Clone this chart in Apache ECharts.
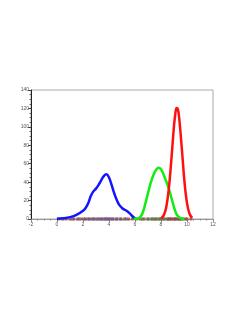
<!DOCTYPE html>
<html><head><meta charset="utf-8">
<script src="https://cdn.jsdelivr.net/npm/echarts@6/dist/echarts.min.js"></script>
<style>html,body{margin:0;padding:0;background:#fff}#c{width:249px;height:323px}</style>
</head><body><div id="c"></div>
<script>
const blueX = [0.0,0.5,1.0,1.5,2.0,2.2,2.4,2.6,2.8,3.0,3.2,3.4,3.6,3.8,4.0,4.2,4.4,4.6,4.8,5.0,5.2,5.4,5.6,5.8,6.0];
const blueY = [0.3,0.8,2,4.5,9,12,17,25,30,33,37,42,46.5,48.5,45,37,28,20.5,15,12,10,8.5,6,3,0.5];
const greenX = [5.9,6.2,6.4,6.6,6.8,7.0,7.2,7.4,7.6,7.8,8.0,8.2,8.4,8.6,8.8,9.0,9.2,9.4,9.6,9.8];
const greenY = [0,0.5,2,7,17,28,39,47,53,55.5,54,48,41,33,23,13,5,2,0.5,0];
const redX = [8.0,8.2,8.4,8.6,8.8,9.0,9.1,9.2,9.3,9.4,9.6,9.8,10.0,10.2,10.4];
const redY = [0.8,3.7,12.5,32.7,65,101,114,120.4,119,109.5,76.8,41.4,17.2,5.4,1.3];
const rugBrown = [0.1,0.4,0.7,1.0,1.3,1.6,1.9,2.2,2.5,2.8,3.1,3.4,3.7,4.0,4.3,4.6,4.9,5.2,5.5,5.8,6.1,6.4,6.7,7.0,7.3,7.6,7.9,8.2,8.5,8.8,9.1,9.4,9.7,10.0,10.3];
const rugBlue = [1.2,1.7,2.1,2.4,2.7,2.9,3.2,3.4,3.6,3.8,3.9,4.1,4.3,4.6,4.9,5.3];
const rugGreen = [6.6,7.0,7.3,7.5,7.7,7.9,8.1,8.3,8.6];
const rugRed = [8.6,8.8,9.0,9.1,9.3,9.4,9.6,9.9];
const xTicks = {min:-2,max:12,interval:2};
const yTicks = {min:0,max:140,interval:20};

const pairs = (xs, ys) => xs.map((x,i)=>[x,ys[i]]);
const rug = xs => xs.map(x=>[x,0]);
const chart = echarts.init(document.getElementById('c'));
const lineS = (name, xs, ys, color) => ({name, type:'line', data:pairs(xs,ys), smooth:0.4, showSymbol:false, lineStyle:{color, width:2.5}, z:3});
const rugS = (name, xs, color) => ({name, type:'scatter', data:rug(xs), symbol:'rect', symbolSize:[3,3], itemStyle:{color, opacity:0.8}, z:2});
chart.setOption({
  animation:false,
  grid:{left:31, top:90, right:36, bottom:104, show:true, borderColor:'#aaa', borderWidth:1},
  xAxis:{type:'value', min:xTicks.min, max:xTicks.max, interval:xTicks.interval,
    axisLine:{onZero:false, lineStyle:{color:'#999', width:1}},
    axisTick:{show:true, length:3, lineStyle:{color:'#888'}},
    minorTick:{show:true, splitNumber:4, length:1.5, lineStyle:{color:'#888'}},
    splitLine:{show:false},
    axisLabel:{fontSize:5, color:'#555', margin:3, fontFamily:'Liberation Sans'}},
  yAxis:{type:'value', min:yTicks.min, max:yTicks.max, interval:yTicks.interval,
    axisLine:{show:true, onZero:false, lineStyle:{color:'#222', width:1}},
    axisTick:{show:true, length:3, lineStyle:{color:'#444'}},
    minorTick:{show:true, splitNumber:4, length:1.5, lineStyle:{color:'#666'}},
    splitLine:{show:false},
    axisLabel:{fontSize:5, color:'#555', margin:2, fontFamily:'Liberation Sans'}},
  series:[
    rugS('rb', rugBrown, '#a0503c'),
    rugS('rblue', rugBlue, '#6a5a8a'),
    rugS('rgreen', rugGreen, '#5a7a4a'),
    rugS('rred', rugRed, '#8a4a4a'),
    lineS('blue', blueX, blueY, '#1414ff'),
    lineS('green', greenX, greenY, '#10ee10'),
    lineS('red', redX, redY, '#ff1010')
  ]
});
</script></body></html>
